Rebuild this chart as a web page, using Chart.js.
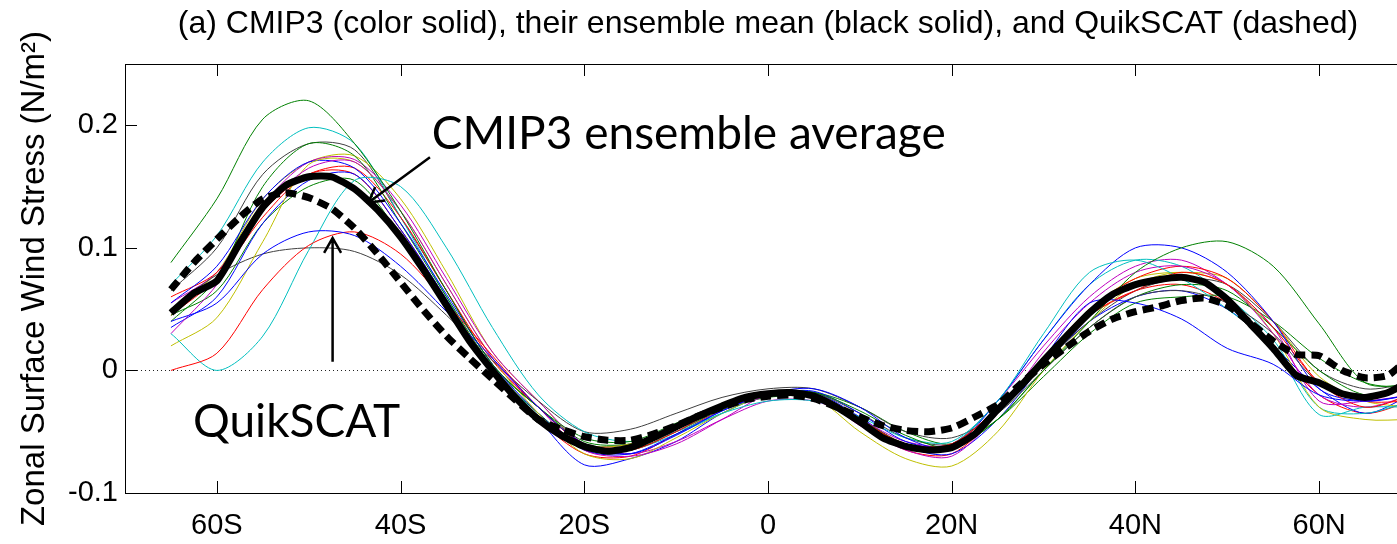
<!DOCTYPE html>
<html>
<head>
<meta charset="utf-8">
<script src="https://cdn.jsdelivr.net/npm/chart.js@4"></script>
<style>
  html, body { margin: 0; padding: 0; background: #fff; overflow: hidden; }
  #wrap { width: 1420px; height: 544px; }
</style>
</head>
<body>
<div id="wrap"><canvas id="stress"></canvas></div>
<script>
// latitude grid (deg, negative = south) for the ensemble mean and QuikSCAT
const latGrid = [-65, -62.5, -60, -57.5, -55, -52.5, -50, -47.5, -45, -42.5, -40, -37.5, -35, -32.5,
  -30, -27.5, -25, -22.5, -20, -17.5, -15, -12.5, -10, -7.5, -5, -2.5, 0, 2.5, 5, 7.5, 10, 12.5,
  15, 17.5, 20, 22.5, 25, 27.5, 30, 32.5, 35, 37.5, 40, 42.5, 45, 47.5, 50, 52.5, 55, 57.5, 60,
  62.5, 65, 67.5, 70];

const ensembleMean = [0.047, 0.063, 0.073, 0.104, 0.133, 0.151, 0.158, 0.158, 0.148, 0.131, 0.109,
  0.082, 0.053, 0.024, 0.000, -0.022, -0.040, -0.053, -0.062, -0.066, -0.063, -0.055, -0.046,
  -0.037, -0.029, -0.022, -0.019, -0.018, -0.021, -0.030, -0.042, -0.055, -0.062, -0.065, -0.063,
  -0.052, -0.032, -0.013, 0.008, 0.028, 0.047, 0.062, 0.070, 0.074, 0.076, 0.072, 0.058, 0.038,
  0.018, -0.004, -0.010, -0.019, -0.022, -0.018, -0.008];

const quikscat = [0.066, 0.088, 0.107, 0.125, 0.140, 0.145, 0.141, 0.132, 0.116, 0.095, 0.072,
  0.049, 0.028, 0.010, -0.007, -0.024, -0.040, -0.048, -0.054, -0.057, -0.057, -0.052, -0.045,
  -0.037, -0.030, -0.024, -0.021, -0.020, -0.023, -0.030, -0.038, -0.045, -0.049, -0.050, -0.047,
  -0.038, -0.028, -0.011, 0.005, 0.019, 0.032, 0.042, 0.048, 0.052, 0.057, 0.059, 0.053, 0.039,
  0.024, 0.013, 0.012, 0.000, -0.006, -0.004, 0.012];

// CMIP3 models on a 5 deg grid
const modelLat = [-65, -60, -55, -50, -45, -40, -35, -30, -25, -20, -15, -10, -5, 0, 5, 10, 15,
  20, 25, 30, 35, 40, 45, 50, 55, 60, 65, 70];

const model01 = [0.040, 0.055, 0.095, 0.113, 0.110, 0.085, 0.048, 0.010, -0.030, -0.060, -0.068, -0.053, -0.033, -0.019, -0.015, -0.030, -0.055, -0.064, -0.035, 0.010, 0.055, 0.055, 0.042, 0.018, 0.005, -0.020, -0.025, -0.020];
const model02 = [0.088, 0.140, 0.205, 0.220, 0.185, 0.130, 0.065, 0.005, -0.030, -0.055, -0.058, -0.043, -0.028, -0.018, -0.018, -0.033, -0.053, -0.063, -0.040, 0.000, 0.040, 0.080, 0.100, 0.105, 0.085, 0.038, -0.010, -0.012];
const model03 = [0.000, 0.014, 0.066, 0.102, 0.113, 0.095, 0.055, 0.012, -0.030, -0.060, -0.065, -0.050, -0.030, -0.020, -0.020, -0.040, -0.060, -0.060, -0.030, 0.010, 0.045, 0.065, 0.080, 0.070, 0.035, -0.010, -0.030, -0.020];
const model04 = [0.030, 0.000, 0.028, 0.098, 0.155, 0.150, 0.100, 0.035, -0.020, -0.050, -0.058, -0.050, -0.035, -0.025, -0.025, -0.038, -0.055, -0.058, -0.025, 0.030, 0.080, 0.090, 0.075, 0.050, 0.020, -0.036, -0.030, -0.030];
const model05 = [0.030, 0.070, 0.130, 0.165, 0.170, 0.130, 0.070, 0.010, -0.030, -0.065, -0.070, -0.060, -0.040, -0.020, -0.020, -0.045, -0.065, -0.070, -0.035, 0.015, 0.055, 0.080, 0.085, 0.070, 0.030, -0.020, -0.030, -0.020];
const model06 = [0.020, 0.043, 0.105, 0.168, 0.170, 0.130, 0.070, 0.010, -0.035, -0.068, -0.072, -0.055, -0.035, -0.020, -0.022, -0.050, -0.072, -0.078, -0.050, 0.000, 0.040, 0.070, 0.080, 0.070, 0.030, -0.030, -0.040, -0.040];
const model07 = [0.050, 0.078, 0.095, 0.100, 0.097, 0.078, 0.045, 0.008, -0.025, -0.050, -0.048, -0.035, -0.022, -0.015, -0.015, -0.030, -0.050, -0.055, -0.035, 0.000, 0.035, 0.060, 0.065, 0.055, 0.030, -0.010, -0.020, -0.015];
const model08 = [0.055, 0.085, 0.140, 0.170, 0.165, 0.120, 0.062, 0.005, -0.035, -0.065, -0.068, -0.052, -0.033, -0.020, -0.017, -0.035, -0.058, -0.062, -0.025, 0.025, 0.070, 0.100, 0.100, 0.080, 0.040, -0.015, -0.025, -0.020];
const model09 = [0.040, 0.075, 0.150, 0.185, 0.175, 0.120, 0.060, 0.003, -0.035, -0.062, -0.065, -0.050, -0.032, -0.022, -0.022, -0.040, -0.060, -0.064, -0.040, 0.000, 0.035, 0.060, 0.070, 0.065, 0.035, 0.000, -0.020, -0.015];
const model10 = [0.060, 0.080, 0.130, 0.160, 0.165, 0.125, 0.065, 0.008, -0.030, -0.060, -0.062, -0.045, -0.030, -0.020, -0.020, -0.040, -0.060, -0.060, -0.030, 0.010, 0.050, 0.075, 0.085, 0.075, 0.040, -0.010, -0.025, -0.025];
const model11 = [0.070, 0.110, 0.170, 0.198, 0.185, 0.125, 0.060, 0.000, -0.035, -0.065, -0.065, -0.052, -0.035, -0.020, -0.022, -0.040, -0.060, -0.060, -0.025, 0.025, 0.070, 0.090, 0.085, 0.060, 0.025, -0.030, -0.035, -0.025];
const model12 = [0.055, 0.080, 0.135, 0.170, 0.172, 0.135, 0.075, 0.015, -0.025, -0.060, -0.068, -0.058, -0.040, -0.025, -0.025, -0.040, -0.058, -0.060, -0.025, 0.020, 0.060, 0.085, 0.090, 0.070, 0.035, -0.025, -0.025, -0.020];
const model13 = [0.050, 0.080, 0.140, 0.170, 0.175, 0.140, 0.080, 0.015, -0.025, -0.060, -0.060, -0.045, -0.030, -0.018, -0.020, -0.040, -0.060, -0.060, -0.030, 0.010, 0.050, 0.075, 0.080, 0.075, 0.040, -0.005, -0.025, -0.030];
const model14 = [0.065, 0.100, 0.160, 0.185, 0.180, 0.125, 0.065, 0.005, -0.030, -0.060, -0.060, -0.045, -0.028, -0.018, -0.018, -0.035, -0.055, -0.060, -0.035, 0.005, 0.040, 0.065, 0.075, 0.070, 0.040, 0.000, -0.015, -0.010];
const model15 = [0.035, 0.060, 0.120, 0.155, 0.160, 0.115, 0.058, 0.000, -0.040, -0.077, -0.072, -0.058, -0.035, -0.020, -0.018, -0.038, -0.062, -0.068, -0.040, 0.005, 0.040, 0.060, 0.065, 0.050, 0.020, -0.015, -0.035, -0.020];
const model16 = [0.045, 0.065, 0.120, 0.150, 0.155, 0.110, 0.055, 0.003, -0.030, -0.058, -0.060, -0.048, -0.030, -0.020, -0.018, -0.030, -0.050, -0.060, -0.040, -0.005, 0.030, 0.055, 0.060, 0.060, 0.040, 0.010, -0.010, -0.015];
const model17 = [0.045, 0.075, 0.125, 0.160, 0.160, 0.115, 0.058, 0.002, -0.040, -0.068, -0.070, -0.052, -0.032, -0.020, -0.020, -0.042, -0.065, -0.068, -0.035, 0.010, 0.045, 0.065, 0.070, 0.055, 0.020, -0.020, -0.035, -0.025];

const modelRuns = [model01, model02, model03, model04, model05, model06, model07, model08, model09,
  model10, model11, model12, model13, model14, model15, model16, model17];

// matlab line colour order b g r c m y k
const modelColors = ['#0000ff', '#008000', '#ff0000', '#00bfbf', '#bf00bf', '#bfbf00', '#404040'];

const latTicks = [-60, -40, -20, 0, 20, 40, 60];
const latTickLabels = ['60S', '40S', '20S', '0', '20N', '40N', '60N'];
const stressTicks = [-0.1, 0, 0.1, 0.2];
const stressTickLabels = ['-0.1', '0', '0.1', '0.2'];

const pts = (xs, ys) => xs.map((x, i) => ({ x: x, y: ys[i] }));

const datasets = [
  { data: pts(latGrid, ensembleMean), borderColor: '#000', borderWidth: 7, tension: 0.2 },
  { data: pts(latGrid, quikscat), borderColor: '#000', borderWidth: 7, borderDash: [11, 6], tension: 0.2 }
];
modelRuns.forEach((run, i) => {
  datasets.push({
    data: pts(modelLat, run),
    borderColor: modelColors[i % modelColors.length],
    borderWidth: 1,
    tension: 0.3
  });
});

const TICK_LEN = 12;

// box, inward ticks and the two arrow annotations
const frame = {
  id: 'frame',
  afterDraw(chart) {
    const { ctx, chartArea: a, scales: { x, y } } = chart;
    ctx.save();
    ctx.strokeStyle = '#000';
    ctx.lineWidth = 1;
    ctx.strokeRect(a.left + 0.5, a.top + 0.5, a.right - a.left, a.bottom - a.top);
    ctx.beginPath();
    x.ticks.forEach(t => {
      const px = Math.round(x.getPixelForValue(t.value)) + 0.5;
      ctx.moveTo(px, a.bottom); ctx.lineTo(px, a.bottom - TICK_LEN);
      ctx.moveTo(px, a.top); ctx.lineTo(px, a.top + TICK_LEN);
    });
    y.ticks.forEach(t => {
      const py = Math.round(y.getPixelForValue(t.value)) + 0.5;
      ctx.moveTo(a.left, py); ctx.lineTo(a.left + TICK_LEN, py);
      ctx.moveTo(a.right, py); ctx.lineTo(a.right - TICK_LEN, py);
    });
    ctx.stroke();

    const arrow = (lat0, v0, lat1, v1) => {
      const x0 = x.getPixelForValue(lat0), y0 = y.getPixelForValue(v0);
      const x1 = x.getPixelForValue(lat1), y1 = y.getPixelForValue(v1);
      const ang = Math.atan2(y0 - y1, x0 - x1);
      const head = 17, spread = Math.PI / 6;
      ctx.beginPath();
      ctx.moveTo(x0, y0); ctx.lineTo(x1, y1);
      ctx.moveTo(x1 + head * Math.cos(ang - spread), y1 + head * Math.sin(ang - spread));
      ctx.lineTo(x1, y1);
      ctx.lineTo(x1 + head * Math.cos(ang + spread), y1 + head * Math.sin(ang + spread));
      ctx.stroke();
    };
    ctx.lineWidth = 2.5;
    arrow(-36.8, 0.174, -43.5, 0.137);
    arrow(-47.4, 0.007, -47.4, 0.108);

    ctx.fillStyle = '#000';
    ctx.font = '46px Lato';
    ctx.textBaseline = 'alphabetic';
    ctx.fillText('CMIP3 ensemble average', x.getPixelForValue(-36.6), y.getPixelForValue(0.181));
    ctx.fillText('QuikSCAT', x.getPixelForValue(-62.6), y.getPixelForValue(-0.054));
    ctx.restore();
  }
};

const axisFont = { family: 'Liberation Sans', size: 29 };

new Chart(document.getElementById('stress'), {
  type: 'line',
  data: { datasets: datasets },
  options: {
    responsive: true,
    maintainAspectRatio: false,
    animation: false,
    elements: { point: { radius: 0 } },
    layout: { padding: { left: 0, right: 9, top: 0, bottom: 0 } },
    plugins: {
      legend: { display: false },
      tooltip: { enabled: false },
      title: {
        display: true,
        fullSize: false,
        text: '(a) CMIP3 (color solid), their ensemble mean (black solid), and QuikSCAT (dashed)',
        color: '#000',
        font: { family: 'Liberation Sans', size: 32, weight: 'normal' },
        padding: { top: 5, bottom: 20.6 }
      }
    },
    scales: {
      x: {
        type: 'linear',
        min: -70,
        max: 70,
        afterBuildTicks: s => { s.ticks = latTicks.map(v => ({ value: v })); },
        afterFit: s => { s.height = 51; },
        ticks: {
          callback: (v, i) => latTickLabels[i],
          color: '#000',
          font: axisFont,
          padding: 8,
          maxRotation: 0,
          autoSkip: false
        },
        grid: { display: false },
        border: { display: false }
      },
      y: {
        min: -0.1,
        max: 0.25,
        afterBuildTicks: s => { s.ticks = stressTicks.map(v => ({ value: v })); },
        afterFit: s => { s.width = 125; },
        ticks: {
          callback: (v, i) => stressTickLabels[i],
          color: '#000',
          font: axisFont,
          padding: 7
        },
        grid: {
          drawTicks: false,
          color: c => (c.tick && c.tick.value === 0 ? '#222' : 'rgba(0,0,0,0)'),
          lineWidth: 1
        },
        border: { display: false, dash: [1, 3] },
        title: {
          display: true,
          text: 'Zonal Surface Wind Stress (N/m²)',
          color: '#000',
          font: { family: 'Liberation Sans', size: 33 },
          padding: { top: 15, bottom: 0 }
        }
      }
    }
  },
  plugins: [frame]
});
</script>
</body>
</html>
